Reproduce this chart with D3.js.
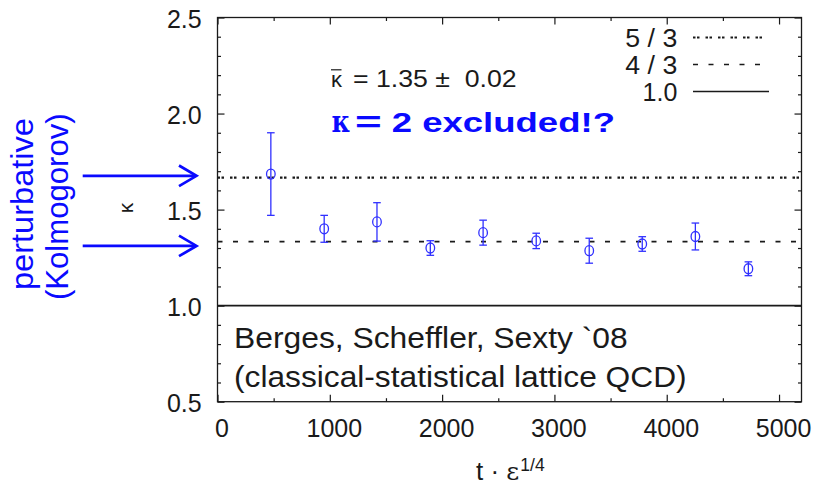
<!DOCTYPE html>
<html>
<head>
<meta charset="utf-8">
<script src="https://cdn.jsdelivr.net/npm/d3@7"></script>
<style>
  html, body { margin: 0; padding: 0; background: #fff; }
  svg text { font-family: "Liberation Sans", Arial, sans-serif; white-space: pre; }
  svg text.greek, svg tspan.greek { font-family: "DejaVu Serif", "Liberation Serif", serif; }
</style>
</head>
<body>
<svg id="chart" width="815" height="486"></svg>
<script>
// Measured spectral exponent kappa versus time t·ε^(1/4)
const times      = [475, 950, 1420, 1895, 2365, 2838, 3310, 3782, 4255, 4727];
const kappa      = [1.685, 1.400, 1.436, 1.300, 1.380, 1.337, 1.286, 1.321, 1.360, 1.192];
const kappaErr   = [0.215, 0.070, 0.100, 0.038, 0.065, 0.040, 0.065, 0.038, 0.070, 0.036];

// Reference exponents drawn as horizontal lines
const refLabels  = ["5 / 3", "4 / 3", "1.0"];
const refValues  = [5 / 3, 4 / 3, 1.0];
const refDash    = ["2.5,1.5,2.5,6", "5,10.5", null];

// Levels the "perturbative (Kolmogorov)" arrows point at
const arrowLevels = [1.676, 1.311];

// Axis ticks
const xMajor = [0, 1000, 2000, 3000, 4000, 5000];
const xMinor = [500, 1500, 2500, 3500, 4500];
const yMajor = [0.5, 1.0, 1.5, 2.0, 2.5];
const yMinor = [0.6, 0.7, 0.8, 0.9, 1.1, 1.2, 1.3, 1.4, 1.6, 1.7, 1.8, 1.9, 2.1, 2.2, 2.3, 2.4];

const svg = d3.select("#chart");
svg.append("rect").attr("width", 815).attr("height", 486).attr("fill", "#fff");

const x = d3.scaleLinear().domain([0, 5200]).range([217.5, 801.5]);
const y = d3.scaleLinear().domain([0.5, 2.5]).range([401.7, 17.5]);
const [x0, x1] = x.range();
const [yb, yt] = y.range();

const ink = "#1a1a1a";
const pointBlue = "#3030ff";
const textBlue = "#0a0aff";
const serif = "'DejaVu Serif', 'Liberation Serif', serif";

// --- axes (ticks pointing inward on all four sides) ---
function styleAxis(g) {
  g.select(".domain").remove();
  g.selectAll(".tick line").attr("stroke", ink).attr("stroke-width", 1.2);
  g.selectAll("text").attr("fill", ink).attr("font-size", 25)
    .attr("font-family", "'Liberation Sans', Arial, sans-serif");
}

const gxb = svg.append("g").attr("transform", `translate(0,${yb})`)
  .call(d3.axisBottom(x).tickValues(xMajor).tickSize(-7).tickFormat(d3.format("d")))
  .call(styleAxis);
gxb.selectAll("text").attr("dy", null).attr("y", 35.5).attr("dx", 4);
svg.append("g").attr("transform", `translate(0,${yb})`)
  .call(d3.axisBottom(x).tickValues(xMinor).tickSize(-3.5).tickFormat(""))
  .call(styleAxis);
svg.append("g").attr("transform", `translate(0,${yt})`)
  .call(d3.axisTop(x).tickValues(xMajor).tickSize(-7).tickFormat(""))
  .call(styleAxis);
svg.append("g").attr("transform", `translate(0,${yt})`)
  .call(d3.axisTop(x).tickValues(xMinor).tickSize(-3.5).tickFormat(""))
  .call(styleAxis);

const gyl = svg.append("g").attr("transform", `translate(${x0},0)`)
  .call(d3.axisLeft(y).tickValues(yMajor).tickSize(-7).tickFormat(d3.format(".1f")))
  .call(styleAxis);
gyl.selectAll("text").attr("dy", null).attr("y", 9.5).attr("x", -15.8);
svg.append("g").attr("transform", `translate(${x0},0)`)
  .call(d3.axisLeft(y).tickValues(yMinor).tickSize(-3.5).tickFormat(""))
  .call(styleAxis);
svg.append("g").attr("transform", `translate(${x1},0)`)
  .call(d3.axisRight(y).tickValues(yMajor).tickSize(-7).tickFormat(""))
  .call(styleAxis);
svg.append("g").attr("transform", `translate(${x1},0)`)
  .call(d3.axisRight(y).tickValues(yMinor).tickSize(-3.5).tickFormat(""))
  .call(styleAxis);

// frame
svg.append("rect")
  .attr("x", x0).attr("y", yt).attr("width", x1 - x0).attr("height", yb - yt)
  .attr("fill", "none").attr("stroke", ink).attr("stroke-width", 1.3);

// --- reference lines across the plot ---
svg.append("g").selectAll("line").data(refValues).join("line")
  .attr("x1", x0).attr("x2", x1)
  .attr("y1", d => y(d)).attr("y2", d => y(d))
  .attr("stroke", ink)
  .attr("stroke-width", (d, i) => i === 0 ? 2.2 : 1.6)
  .attr("stroke-dasharray", (d, i) => refDash[i]);

// --- legend ---
const legend = svg.append("g");
refLabels.forEach((lab, i) => {
  const base = 46.5 + i * 27;
  const t = legend.append("text")
    .attr("x", 677.3).attr("y", base)
    .attr("text-anchor", "end").attr("font-size", 25).attr("fill", ink)
    .text(lab);
  if (i < 2) t.attr("textLength", 52).attr("lengthAdjust", "spacingAndGlyphs");
  legend.append("line")
    .attr("x1", 693).attr("x2", i === 2 ? 769 : 763)
    .attr("y1", base - 9).attr("y2", base - 9)
    .attr("stroke", ink)
    .attr("stroke-width", i === 0 ? 2 : 1.5)
    .attr("stroke-dasharray", refDash[i]);
});

// --- data: error bars and open circles ---
const pts = times.map((t, i) => ({ t, k: kappa[i], e: kappaErr[i] }));
const gp = svg.append("g").attr("stroke", pointBlue).attr("fill", "none").attr("stroke-width", 1.3);
gp.selectAll("line.bar").data(pts).join("line").attr("class", "bar")
  .attr("x1", d => x(d.t)).attr("x2", d => x(d.t))
  .attr("y1", d => y(d.k + d.e)).attr("y2", d => y(d.k - d.e));
gp.selectAll("line.capHi").data(pts).join("line").attr("class", "capHi")
  .attr("x1", d => x(d.t) - 3.8).attr("x2", d => x(d.t) + 3.8)
  .attr("y1", d => y(d.k + d.e)).attr("y2", d => y(d.k + d.e));
gp.selectAll("line.capLo").data(pts).join("line").attr("class", "capLo")
  .attr("x1", d => x(d.t) - 3.8).attr("x2", d => x(d.t) + 3.8)
  .attr("y1", d => y(d.k - d.e)).attr("y2", d => y(d.k - d.e));
gp.selectAll("ellipse").data(pts).join("ellipse")
  .attr("cx", d => x(d.t)).attr("cy", d => y(d.k))
  .attr("rx", 4.3).attr("ry", 5);

// --- annotations inside the plot ---
// mean value with overbar on kappa
svg.append("text").attr("x", 331).attr("y", 86.7)
  .attr("font-family", serif).attr("font-size", 22).attr("fill", ink)
  .attr("textLength", 11).attr("lengthAdjust", "spacingAndGlyphs").text("κ");
svg.append("line").attr("x1", 331).attr("x2", 341.5).attr("y1", 69.8).attr("y2", 69.8)
  .attr("stroke", ink).attr("stroke-width", 1.2);
svg.append("text").attr("x", 353).attr("y", 86.7)
  .attr("font-size", 24).attr("fill", ink)
  .attr("textLength", 163.7).attr("lengthAdjust", "spacingAndGlyphs")
  .text("= 1.35 ±  0.02");

// bold blue claim
const claim = svg.append("text").attr("y", 132.3).attr("fill", textBlue).attr("font-weight", "bold");
claim.append("tspan").attr("x", 331.5).attr("font-family", serif).attr("font-size", 30)
  .attr("textLength", 19).attr("lengthAdjust", "spacingAndGlyphs").text("κ");
claim.append("tspan").attr("x", 355).attr("font-size", 30)
  .attr("textLength", 26.7).attr("lengthAdjust", "spacingAndGlyphs").text("=");
claim.append("tspan").attr("x", 391.7).attr("font-size", 28.5)
  .attr("textLength", 223.3).attr("lengthAdjust", "spacingAndGlyphs").text("2 excluded!?");

// citation
svg.append("text").attr("x", 234).attr("y", 348.3)
  .attr("font-size", 30).attr("fill", ink)
  .attr("textLength", 393.7).attr("lengthAdjust", "spacingAndGlyphs")
  .text("Berges, Scheffler, Sexty `08");
svg.append("text").attr("x", 234).attr("y", 387.3)
  .attr("font-size", 30).attr("fill", ink)
  .attr("textLength", 452.6).attr("lengthAdjust", "spacingAndGlyphs")
  .text("(classical-statistical lattice QCD)");

// --- axis titles ---
const xt = svg.append("text").attr("x", 476).attr("y", 480).attr("fill", ink).attr("font-size", 26);
xt.append("tspan").text("t · ");
xt.append("tspan").attr("font-family", serif).attr("font-size", 25).text("ε");
xt.append("tspan").attr("dx", 1).attr("dy", -9).attr("font-size", 17.5).text("1/4");

svg.append("text")
  .attr("transform", "translate(133,208) rotate(-90)")
  .attr("text-anchor", "middle").attr("font-family", serif).attr("font-size", 21).attr("fill", ink)
  .text("κ");

// --- "perturbative (Kolmogorov)" label with arrows ---
svg.append("text")
  .attr("transform", "translate(33,204) rotate(-90)")
  .attr("text-anchor", "middle").attr("font-size", 31).attr("fill", textBlue)
  .attr("textLength", 172).attr("lengthAdjust", "spacingAndGlyphs")
  .text("perturbative");
svg.append("text")
  .attr("transform", "translate(68,206.7) rotate(-90)")
  .attr("text-anchor", "middle").attr("font-size", 31).attr("fill", textBlue)
  .attr("textLength", 186.7).attr("lengthAdjust", "spacingAndGlyphs")
  .text("(Kolmogorov)");

const ga = svg.append("g").attr("stroke", textBlue).attr("stroke-width", 2.7).attr("fill", "none")
  .attr("stroke-linecap", "butt").attr("stroke-linejoin", "miter");
arrowLevels.forEach(v => {
  const yy = y(v);
  ga.append("line").attr("x1", 82.7).attr("x2", 195.5).attr("y1", yy).attr("y2", yy);
  ga.append("path").attr("d", `M179,${yy - 10.3} L196.5,${yy} L179,${yy + 10.3}`);
});
</script>
</body>
</html>
